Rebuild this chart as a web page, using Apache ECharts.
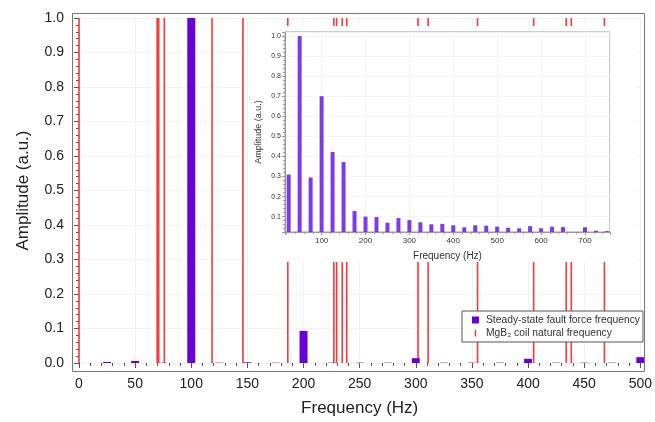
<!DOCTYPE html>
<html>
<head>
<meta charset="utf-8">
<script src="https://cdn.jsdelivr.net/npm/echarts@6/dist/echarts.min.js"></script>
<style>html,body{margin:0;padding:0;background:#fff}#c{width:655px;height:422px}</style>
</head>
<body>
<div id="c"></div>
<script>
// ---- Main chart data ----
const faultFreq = [25, 50, 75, 100, 125, 150, 175, 200, 225, 250, 275, 300, 325, 350, 375, 400, 425, 450, 475, 500];
const faultAmp  = [0.003, 0.006, 0.001, 1.0, 0.001, 0.002, 0.001, 0.093, 0.001, 0.001, 0.001, 0.014, 0.001, 0.001, 0.001, 0.012, 0.001, 0.001, 0.001, 0.017];
const naturalFreq = [0, 69.6, 71, 76, 118.5, 146, 186, 227, 229.5, 234.5, 238.5, 302, 311, 355, 405, 434, 438.5, 468];
const naturalAmp = 1.0;
const mainXTicks = [0, 50, 100, 150, 200, 250, 300, 350, 400, 450, 500];
const mainYTicks = [0.0, 0.1, 0.2, 0.3, 0.4, 0.5, 0.6, 0.7, 0.8, 0.9, 1.0];

// ---- Inset data ----
const insetFreq = [25, 50, 75, 100, 125, 150, 175, 200, 225, 250, 275, 300, 325, 350, 375, 400, 425, 450, 475, 500, 525, 550, 575, 600, 625, 650, 700, 725, 750];
const insetAmp  = [0.31, 1.0, 0.295, 0.70, 0.422, 0.372, 0.128, 0.10, 0.098, 0.07, 0.093, 0.083, 0.072, 0.062, 0.064, 0.057, 0.047, 0.057, 0.055, 0.05, 0.045, 0.042, 0.053, 0.042, 0.05, 0.048, 0.047, 0.03, 0.028];

const seriesNames = ['Steady-state fault force frequency', 'MgB\u2082 coil natural frequency'];

const FONT = 'Liberation Sans, Arial, sans-serif';
const chart = echarts.init(document.getElementById('c'), null, {renderer: 'canvas'});

const option = {
  backgroundColor: '#fff',
  animation: false,
  textStyle: {fontFamily: FONT},
  grid: [
    {left: 79, right: 14, top: 18, bottom: 57, show: false},
    {left: 285, right: 45, top: 32, bottom: 190, show: true, borderColor: '#9a9a9a', borderWidth: 1, backgroundColor: 'transparent', z: 4}
  ],
  xAxis: [
    {
      type: 'value', gridIndex: 0, min: mainXTicks[0], max: mainXTicks[mainXTicks.length - 1], interval: 50,
      offset: 7,
      name: 'Frequency (Hz)', nameLocation: 'middle', nameGap: 30,
      nameTextStyle: {fontSize: 17, color: '#222', fontFamily: FONT},
      axisLine: {show: false},
      axisTick: {show: true, inside: false, length: 5, lineStyle: {color: '#555'}},
      minorTick: {show: true, splitNumber: 5, length: 3, lineStyle: {color: '#555'}},
      axisLabel: {fontSize: 14, color: '#222', margin: 7, fontFamily: FONT},
      splitLine: {show: true, lineStyle: {color: '#f1f1f1'}},
      minorSplitLine: {show: false}
    },
    {
      type: 'value', gridIndex: 1, min: 16.6, max: 757, splitNumber: 7, z: 4,
      name: 'Frequency (Hz)', nameLocation: 'middle', nameGap: 19,
      nameTextStyle: {fontSize: 10, color: '#333', fontFamily: FONT},
      axisLine: {show: true, lineStyle: {color: '#999'}},
      axisTick: {show: true, length: 3, lineStyle: {color: '#999'}},
      minorTick: {show: true, splitNumber: 5, length: 2, lineStyle: {color: '#999'}},
      axisLabel: {fontSize: 8, color: '#333', margin: 5, showMinLabel: false, showMaxLabel: false,
        formatter: v => (Math.abs(v / 100 - Math.round(v / 100)) < 1e-6 ? String(Math.round(v)) : '')},
      splitLine: {show: true, lineStyle: {color: '#f3f3f3'}}
    }
  ],
  yAxis: [
    {
      type: 'value', gridIndex: 0, min: mainYTicks[0], max: mainYTicks[mainYTicks.length - 1], interval: 0.1,
      offset: 7,
      name: 'Amplitude (a.u.)', nameLocation: 'middle', nameGap: 40,
      nameTextStyle: {fontSize: 17, color: '#222', fontFamily: FONT},
      axisLine: {show: false},
      axisTick: {show: true, length: 5, lineStyle: {color: '#555'}},
      minorTick: {show: true, splitNumber: 5, length: 3, lineStyle: {color: '#555'}},
      axisLabel: {fontSize: 14, color: '#222', margin: 8, formatter: v => v.toFixed(1), fontFamily: FONT},
      splitLine: {show: true, lineStyle: {color: '#f1f1f1'}}
    },
    {
      type: 'value', gridIndex: 1, min: 0.0235, max: 1.02, splitNumber: 10, z: 4,
      name: 'Amplitude (a.u.)', nameLocation: 'middle', nameGap: 22,
      nameTextStyle: {fontSize: 9, color: '#333', fontFamily: FONT},
      axisLine: {show: true, lineStyle: {color: '#999'}},
      axisTick: {show: true, length: 3, lineStyle: {color: '#999'}},
      minorTick: {show: true, splitNumber: 5, length: 2, lineStyle: {color: '#999'}},
      axisLabel: {fontSize: 7, color: '#333', margin: 4, showMinLabel: false, showMaxLabel: false,
        formatter: v => (Math.abs(v * 10 - Math.round(v * 10)) < 1e-6 ? v.toFixed(1) : '')},
      splitLine: {show: true, lineStyle: {color: '#f3f3f3'}}
    }
  ],
  legend: {
    orient: 'vertical', left: 462, top: 311, z: 10,
    padding: [4, 3, 4, 10], itemGap: 3, itemWidth: 7, itemHeight: 7,
    backgroundColor: '#fff', borderColor: '#555', borderWidth: 1, borderRadius: 0,
    textStyle: {fontSize: 10.3, color: '#333', fontFamily: FONT, padding: [0, 0, 0, 2]},
    data: [
      {name: seriesNames[0], icon: 'rect'},
      {name: seriesNames[1], icon: 'path://M0,0 L2,0 L2,10 L0,10 Z'}
    ]
  },
  graphic: [
    {type: 'rect', z: 3, silent: true, shape: {x: 250, y: 26, width: 385, height: 236}, style: {fill: '#fff'}},
    {type: 'rect', z: 6, silent: true, shape: {x: 72.5, y: 13.5, width: 572, height: 358}, style: {fill: 'none', stroke: '#777', lineWidth: 1}}
  ],
  series: [
    {
      name: seriesNames[0], type: 'bar', xAxisIndex: 0, yAxisIndex: 0, z: 2,
      barWidth: 8, itemStyle: {color: '#6a00d9'},
      data: faultFreq.map((f, i) => [f, faultAmp[i]])
    },
    {
      name: seriesNames[1], type: 'custom', xAxisIndex: 0, yAxisIndex: 0, z: 1,
      itemStyle: {color: '#f23a3a'},
      data: naturalFreq.map(f => [f, naturalAmp]),
      renderItem: function (params, api) {
        const p0 = api.coord([api.value(0), 0]);
        const p1 = api.coord([api.value(0), api.value(1)]);
        return {type: 'line', shape: {x1: p0[0], y1: p0[1], x2: p1[0], y2: p1[1]},
          style: {stroke: '#f23a3a', lineWidth: 1.6}};
      }
    },
    {
      name: 'inset', type: 'bar', xAxisIndex: 1, yAxisIndex: 1, z: 5,
      barWidth: 4, itemStyle: {color: '#7d3ae6'},
      data: insetFreq.map((f, i) => [f, insetAmp[i]])
    }
  ]
};
chart.setOption(option);
</script>
</body>
</html>
